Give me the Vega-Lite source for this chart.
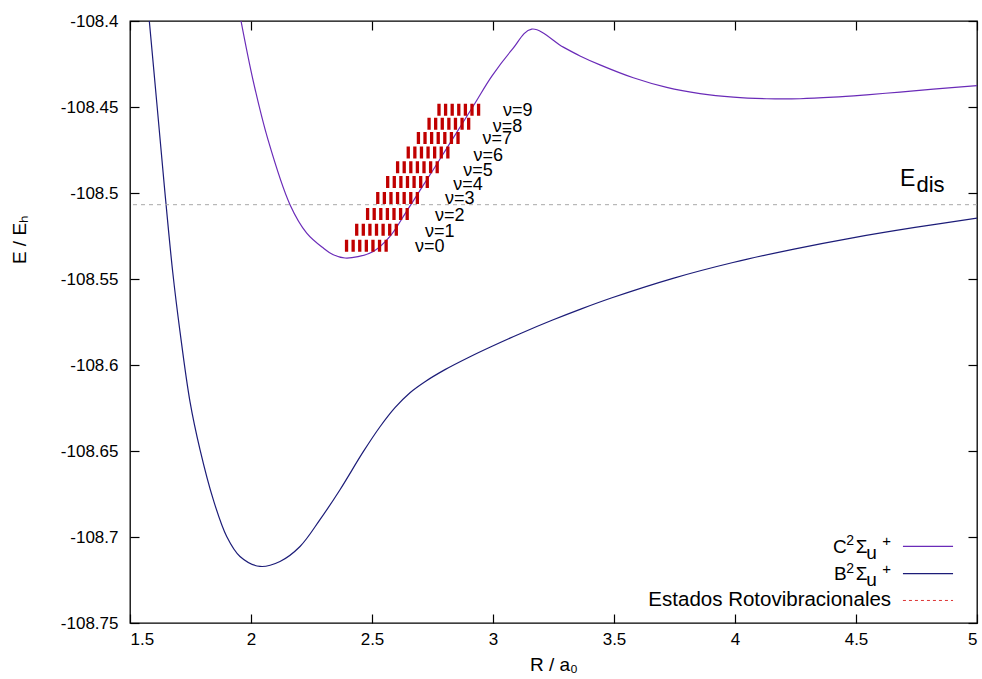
{
  "$schema": "https://vega.github.io/schema/vega-lite/v6.json",
  "width": 847,
  "height": 602,
  "autosize": {"type": "none"},
  "padding": {"left": 130, "top": 21, "right": 5, "bottom": 56},
  "background": "white",
  "config": {
    "font": "Liberation Sans",
    "view": {"stroke": "#000", "strokeWidth": 1.3},
    "axis": {
      "grid": false, "domain": false, "tickColor": "#000", "tickSize": -9, "tickWidth": 1.2,
      "labelColor": "#000", "labelFontSize": 17, "labelFont": "Liberation Sans",
      "titleColor": "#000", "titleFontSize": 19, "titleFontWeight": "normal", "titleFont": "Liberation Sans"
    }
  },
  "datasets": {
    "curves": [
      {"state": "C", "R": 1.9587, "E": -108.4},
      {"state": "C", "R": 2.0095, "E": -108.4351},
      {"state": "C", "R": 2.0702, "E": -108.469},
      {"state": "C", "R": 2.1612, "E": -108.5068},
      {"state": "C", "R": 2.2302, "E": -108.5233},
      {"state": "C", "R": 2.2988, "E": -108.532},
      {"state": "C", "R": 2.3401, "E": -108.5359},
      {"state": "C", "R": 2.3884, "E": -108.5378},
      {"state": "C", "R": 2.4421, "E": -108.537},
      {"state": "C", "R": 2.5054, "E": -108.534},
      {"state": "C", "R": 2.5744, "E": -108.5252},
      {"state": "C", "R": 2.6434, "E": -108.5105},
      {"state": "C", "R": 2.6983, "E": -108.4985},
      {"state": "C", "R": 2.7603, "E": -108.4849},
      {"state": "C", "R": 2.8223, "E": -108.471},
      {"state": "C", "R": 2.9256, "E": -108.4478},
      {"state": "C", "R": 2.9946, "E": -108.4322},
      {"state": "C", "R": 3.0785, "E": -108.4167},
      {"state": "C", "R": 3.1599, "E": -108.4047},
      {"state": "C", "R": 3.2905, "E": -108.4152},
      {"state": "C", "R": 3.3595, "E": -108.4203},
      {"state": "C", "R": 3.4421, "E": -108.4255},
      {"state": "C", "R": 3.5798, "E": -108.433},
      {"state": "C", "R": 3.7178, "E": -108.4386},
      {"state": "C", "R": 3.8554, "E": -108.4422},
      {"state": "C", "R": 3.993, "E": -108.4443},
      {"state": "C", "R": 4.131, "E": -108.4452},
      {"state": "C", "R": 4.2686, "E": -108.4452},
      {"state": "C", "R": 4.4063, "E": -108.4443},
      {"state": "C", "R": 4.5442, "E": -108.4429},
      {"state": "C", "R": 4.6818, "E": -108.4413},
      {"state": "C", "R": 4.8194, "E": -108.4396},
      {"state": "C", "R": 5.0, "E": -108.4376},
      {"state": "B", "R": 1.5798, "E": -108.4},
      {"state": "B", "R": 1.6107, "E": -108.4475},
      {"state": "B", "R": 1.6421, "E": -108.4963},
      {"state": "B", "R": 1.6764, "E": -108.5458},
      {"state": "B", "R": 1.7066, "E": -108.5806},
      {"state": "B", "R": 1.7479, "E": -108.6213},
      {"state": "B", "R": 1.7893, "E": -108.6492},
      {"state": "B", "R": 1.8442, "E": -108.6783},
      {"state": "B", "R": 1.8996, "E": -108.6997},
      {"state": "B", "R": 1.9545, "E": -108.7113},
      {"state": "B", "R": 2.0372, "E": -108.7171},
      {"state": "B", "R": 2.1198, "E": -108.7142},
      {"state": "B", "R": 2.2025, "E": -108.7055},
      {"state": "B", "R": 2.2851, "E": -108.6899},
      {"state": "B", "R": 2.3678, "E": -108.6725},
      {"state": "B", "R": 2.464, "E": -108.6504},
      {"state": "B", "R": 2.5331, "E": -108.6359},
      {"state": "B", "R": 2.595, "E": -108.6248},
      {"state": "B", "R": 2.657, "E": -108.6161},
      {"state": "B", "R": 2.719, "E": -108.6097},
      {"state": "B", "R": 2.8017, "E": -108.6027},
      {"state": "B", "R": 2.905, "E": -108.5952},
      {"state": "B", "R": 2.9917, "E": -108.5894},
      {"state": "B", "R": 3.1116, "E": -108.5818},
      {"state": "B", "R": 3.2438, "E": -108.574},
      {"state": "B", "R": 3.3678, "E": -108.5672},
      {"state": "B", "R": 3.4917, "E": -108.5609},
      {"state": "B", "R": 3.7438, "E": -108.5496},
      {"state": "B", "R": 3.9917, "E": -108.5404},
      {"state": "B", "R": 4.2438, "E": -108.5326},
      {"state": "B", "R": 4.4917, "E": -108.5259},
      {"state": "B", "R": 4.7438, "E": -108.52},
      {"state": "B", "R": 5.0, "E": -108.5146}
    ],
    "levels": [
      {"label": "ν=0", "R1": 2.388, "R2": 2.577, "E": -108.5306, "labelR": 2.678, "labelE": -108.5314},
      {"label": "ν=1", "R1": 2.43, "R2": 2.619, "E": -108.5213, "labelR": 2.719, "labelE": -108.5227},
      {"label": "ν=2", "R1": 2.475, "R2": 2.66, "E": -108.5122, "labelR": 2.76, "labelE": -108.5136},
      {"label": "ν=3", "R1": 2.517, "R2": 2.701, "E": -108.5029, "labelR": 2.802, "labelE": -108.5037},
      {"label": "ν=4", "R1": 2.558, "R2": 2.743, "E": -108.4936, "labelR": 2.836, "labelE": -108.4956},
      {"label": "ν=5", "R1": 2.599, "R2": 2.788, "E": -108.4851, "labelR": 2.877, "labelE": -108.487},
      {"label": "ν=6", "R1": 2.643, "R2": 2.829, "E": -108.4764, "labelR": 2.919, "labelE": -108.4785},
      {"label": "ν=7", "R1": 2.685, "R2": 2.871, "E": -108.468, "labelR": 2.957, "labelE": -108.4688},
      {"label": "ν=8", "R1": 2.729, "R2": 2.912, "E": -108.4597, "labelR": 2.999, "labelE": -108.4615},
      {"label": "ν=9", "R1": 2.77, "R2": 2.954, "E": -108.4516, "labelR": 3.041, "labelE": -108.4526}
    ],
    "edis": [{"E": -108.5068}],
    "key": [
      {"state": "C", "letter": "C", "E": -108.7055},
      {"state": "B", "letter": "B", "E": -108.7213}
    ],
    "keyLevels": [{"label": "Estados Rotovibracionales", "E": -108.7369}]
  },
  "resolve": {"axis": {"x": "independent", "y": "independent"}},
  "layer": [
    {
      "data": {"name": "curves"},
      "mark": {"type": "line", "interpolate": "catmull-rom", "strokeWidth": 1.2, "clip": true},
      "encoding": {
        "x": {"field": "R", "type": "quantitative", "scale": {"domain": [1.5, 5], "nice": false, "zero": false},
              "axis": {"orient": "bottom", "values": [1.5, 2, 2.5, 3, 3.5, 4, 4.5, 5], "format": "~g", "labelPadding": 17, "title": "R / a₀", "titleY": 47, "titleBaseline": "alphabetic"}},
        "y": {"field": "E", "type": "quantitative", "scale": {"domain": [-108.75, -108.4], "nice": false, "zero": false},
              "axis": {"orient": "left", "values": [-108.75, -108.7, -108.65, -108.6, -108.55, -108.5, -108.45, -108.4], "labelExpr": "replace(format(datum.value, '.5~r'), '−', '-')", "labelPadding": 21, "title": "E / Eₕ", "titleX": -111, "titleY": 218, "titleAlign": "center", "titleBaseline": "middle", "titleAngle": -90}},
        "color": {"field": "state", "type": "nominal", "scale": {"domain": ["C", "B"], "range": ["#6a2bb8", "#1c1c78"]}, "legend": null}
      }
    },
    {
      "data": {"name": "edis"},
      "mark": {"type": "rule", "color": "#a8a8a8", "strokeWidth": 1, "strokeDash": [4, 4]},
      "encoding": {"y": {"field": "E", "type": "quantitative", "axis": null}}
    },
    {
      "data": {"name": "levels"},
      "mark": {"type": "rule", "color": "#c00000", "strokeWidth": 12, "strokeDash": [3.3, 3.3], "strokeCap": "butt"},
      "encoding": {
        "x": {"field": "R1", "type": "quantitative", "axis": {"orient": "top", "values": [1.5, 2, 2.5, 3, 3.5, 4, 4.5, 5], "labels": false, "title": null}},
        "x2": {"field": "R2"},
        "y": {"field": "E", "type": "quantitative", "axis": {"orient": "right", "values": [-108.75, -108.7, -108.65, -108.6, -108.55, -108.5, -108.45, -108.4], "labels": false, "title": null}}
      }
    },
    {
      "data": {"name": "levels"},
      "mark": {"type": "text", "align": "left", "baseline": "middle", "fontSize": 18, "color": "#000"},
      "encoding": {
        "x": {"field": "labelR", "type": "quantitative", "axis": null},
        "y": {"field": "labelE", "type": "quantitative", "axis": null},
        "text": {"field": "label"}
      }
    },
    {
      "data": {"name": "edis"},
      "mark": {"type": "text", "align": "left", "baseline": "alphabetic", "fontSize": 23, "dy": -18.3, "color": "#000", "text": "E"},
      "encoding": {"x": {"datum": 4.682, "type": "quantitative", "axis": null}, "y": {"field": "E", "type": "quantitative", "axis": null}}
    },
    {
      "data": {"name": "edis"},
      "mark": {"type": "text", "align": "left", "baseline": "alphabetic", "fontSize": 22, "dy": -12.7, "color": "#000", "text": "dis"},
      "encoding": {"x": {"datum": 4.75, "type": "quantitative", "axis": null}, "y": {"field": "E", "type": "quantitative", "axis": null}}
    },
    {
      "data": {"name": "key"},
      "mark": {"type": "rule", "strokeWidth": 1.2},
      "encoding": {
        "x": {"datum": 4.694, "type": "quantitative", "axis": null},
        "x2": {"datum": 4.901},
        "y": {"field": "E", "type": "quantitative", "axis": null},
        "color": {"field": "state", "type": "nominal", "legend": null}
      }
    },
    {
      "data": {"name": "keyLevels"},
      "mark": {"type": "rule", "strokeWidth": 1, "color": "#dd3333", "strokeDash": [3, 3]},
      "encoding": {
        "x": {"datum": 4.694, "type": "quantitative", "axis": null},
        "x2": {"datum": 4.901},
        "y": {"field": "E", "type": "quantitative", "axis": null}
      }
    },
    {
      "data": {"name": "keyLevels"},
      "mark": {"type": "text", "align": "right", "baseline": "middle", "fontSize": 20.5, "color": "#000"},
      "encoding": {
        "x": {"datum": 4.645, "type": "quantitative", "axis": null},
        "y": {"field": "E", "type": "quantitative", "axis": null},
        "text": {"field": "label"}
      }
    },
    {
      "data": {"name": "key"},
      "mark": {"type": "text", "align": "right", "baseline": "alphabetic", "fontSize": 15, "dy": 0, "color": "#000", "text": "+"},
      "encoding": {"x": {"datum": 4.645, "type": "quantitative", "axis": null}, "y": {"field": "E", "type": "quantitative", "axis": null}}
    },
    {
      "data": {"name": "key"},
      "mark": {"type": "text", "align": "right", "baseline": "alphabetic", "fontSize": 19, "dx": -14.3, "dy": 12.6, "color": "#000", "text": "u"},
      "encoding": {"x": {"datum": 4.645, "type": "quantitative", "axis": null}, "y": {"field": "E", "type": "quantitative", "axis": null}}
    },
    {
      "data": {"name": "key"},
      "mark": {"type": "text", "align": "right", "baseline": "alphabetic", "fontSize": 19, "dx": -23.7, "dy": 6.6, "color": "#000", "text": "Σ"},
      "encoding": {"x": {"datum": 4.645, "type": "quantitative", "axis": null}, "y": {"field": "E", "type": "quantitative", "axis": null}}
    },
    {
      "data": {"name": "key"},
      "mark": {"type": "text", "align": "right", "baseline": "alphabetic", "fontSize": 14, "dx": -37, "dy": -1, "color": "#000", "text": "2"},
      "encoding": {"x": {"datum": 4.645, "type": "quantitative", "axis": null}, "y": {"field": "E", "type": "quantitative", "axis": null}}
    },
    {
      "data": {"name": "key"},
      "mark": {"type": "text", "align": "right", "baseline": "alphabetic", "fontSize": 19, "dx": -44.3, "dy": 6.6, "color": "#000"},
      "encoding": {"x": {"datum": 4.645, "type": "quantitative", "axis": null}, "y": {"field": "E", "type": "quantitative", "axis": null}, "text": {"field": "letter"}}
    }
  ]
}
